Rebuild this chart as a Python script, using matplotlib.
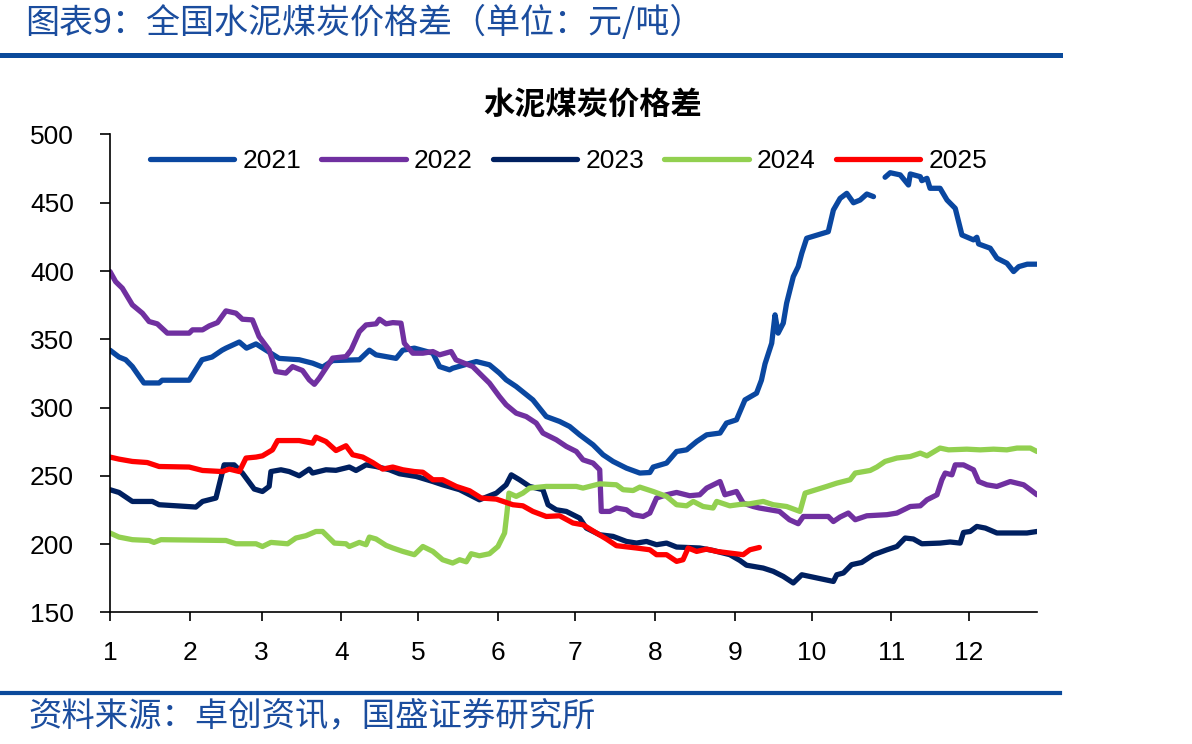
import numpy as np
import matplotlib
matplotlib.use("Agg")
import matplotlib.pyplot as plt
from matplotlib.lines import Line2D

# ---------------- data (x = day of year, y = 元/吨) ----------------
nan = np.nan
days_2021 = [0, 3.5, 6.1, 8.7, 11.3, 13.2, 19.1, 20.3, 30.8, 35.8, 39.7, 43.6, 45.1, 50.3, 53.1, 56.8,
             60.7, 65.8, 73.6, 78.8, 82.7, 86.6, 97.0, 100.9, 103.5, 111.3, 113.9, 118.4, 125.6,
             128.2, 132.1, 133.3, 142.5, 147.6, 151.5, 154.1, 158.0, 164.5, 169.7, 174.9, 178.8,
             182.7, 187.9, 191.8, 195.7, 200.9, 206.1, 210.0, 211.3, 216.5, 220.4, 224.3, 228.2,
             232.1, 237.3, 239.8, 243.7, 247.0, 251.5, 253.4, 254.8, 257.4, 258.7, 259.9, 261.9,
             263.2, 265.8, 267.7, 269.1, 271.0, 279.4, 281.4, 284.0, 286.6, 289.2, 291.8, 294.4,
             297.0, 299.0, 301.5, 303.5, 307.4, 310.6, 311.3, 315.2, 315.8, 317.8, 319.0, 322.9,
             325.6, 328.8, 331.4, 335.9, 337.2, 337.9, 342.4, 345.0, 348.9, 351.5, 353.5, 356.8, 360.6]
vals_2021 = [342, 337, 335, 330, 323, 318, 318, 320, 320, 335, 337, 342, 343.5, 348, 343.5, 346.6,
             342, 336, 335, 332.5, 329.6, 334.4, 335, 342, 338.6, 336, 342, 343.5, 339.8,
             330, 327.6, 328.8, 333.7, 331.3, 325.2, 320.3, 315.4, 305.6, 293.4, 289.8, 286.1,
             280, 272.7, 265.4, 260.5, 255.6, 252, 252.4, 256.4, 259.3, 267.8, 269, 275.1,
             280, 281.3, 288.6, 291, 305.6, 310.5, 320, 332, 347.1, 367.9, 354.5, 361.8,
             376.4, 395.9, 403.2, 413, 424, 428.8, 444.7, 453.2, 456.9, 450, 452, 456.4,
             454.5, nan, 468.7, 472, 470.4, 463, 471.1, 469.1, 466.2, 467.9, 460.6, 460.6,
             452, 445.9, 426.4, 422.8, 424.7, 419.8, 416.7, 409.4, 405.7, 399.6, 403.2, 405, 405]

days_2022 = [0, 2.2, 4.8, 8.7, 12.6, 15.2, 18.4, 22.3, 30.8, 32.1, 36.0, 38.6, 41.8, 45.1, 49.0,
             51.5, 55.4, 58.0, 61.9, 64.5, 68.4, 71.0, 74.9, 77.5, 79.5, 81.4, 86.6, 91.8, 93.8,
             97.0, 99.6, 103.5, 104.8, 107.4, 110.0, 113.2, 114.5, 117.8, 121.7, 125.6, 128.2,
             132.7, 134.6, 141.1, 145.0, 147.6, 151.5, 154.1, 158.0, 161.9, 165.8, 168.4, 173.6,
             177.5, 181.4, 184.0, 187.9, 190.5, 191.1, 194.4, 197.0, 200.9, 203.5, 207.4, 210.0,
             212.6, 216.5, 220.4, 225.5, 229.4, 232.1, 237.3, 239.2, 243.7, 246.3, 250.2, 252.6,
             260.4, 264.3, 267.7, 269.7, 279.4, 281.4, 284.0, 287.2, 289.9, 294.4, 302.2, 306.1,
             311.3, 315.2, 317.8, 321.7, 323.6, 324.9, 327.5, 328.8, 332.0, 335.9, 337.9, 341.1,
             345.0, 350.2, 355.4, 358.0, 360.6]
vals_2022 = [399.6, 392.2, 387.4, 375.2, 369.1, 363, 361.3, 354.5, 354.5, 356.9, 356.9, 359.8, 362.2,
             370.8, 369.1, 364.7, 364.2, 352, 342.2, 326.4, 325.2, 330, 327.1, 320.3, 317, 321.5,
             336.2, 337.3, 342.2, 355.6, 360.5, 361.3, 364.7, 361.3, 362.2, 361.8, 347.1, 339.8,
             339.8, 341, 338.6, 341, 334.9, 330, 322.7, 317.9, 308, 302, 295.9, 293.4, 288.6,
             281.3, 276.4, 271.5, 267.8, 261.7, 259.3, 254.4, 223.9, 223.9, 226.4, 225.1, 221.5,
             220.2, 222.7, 233.7, 236.1, 237.8, 235.4, 236.1, 241, 245.8, 236.1, 238.5, 230,
             227.5, 226.4, 223.9, 217.8, 214.9, 220.2, 220.2, 216.5, 219.8, 222.7, 217.8, 220.7,
             221.5, 222.7, 227.5, 228, 232.4, 236.1, 247.1, 252, 250.7, 258, 258, 254.4, 245.8,
             243.4, 242.2, 245.8, 243.4, 239.8, 236.1]

days_2023 = [0, 3.5, 8.7, 16.5, 19.1, 33.4, 36.0, 41.2, 44.4, 48.3, 51.5, 56.1, 59.3, 61.9, 62.6,
             66.5, 69.7, 73.6, 77.5, 78.8, 84.0, 87.9, 93.1, 95.7, 99.6, 103.5, 108.7, 112.6,
             119.1, 125.6, 129.4, 136.0, 143.7, 150.3, 154.1, 156.1, 159.3, 163.2, 168.4, 170.4,
             173.6, 177.5, 182.7, 185.3, 190.5, 195.7, 200.9, 204.8, 208.7, 212.6, 216.5, 220.4,
             229.4, 234.6, 241.1, 245.0, 247.6, 254.1, 258.0, 261.9, 265.8, 269.1, 281.4, 282.7,
             285.3, 288.5, 292.4, 297.0, 302.2, 306.1, 309.3, 312.5, 315.8, 322.9, 326.8, 330.7,
             332.0, 334.6, 337.2, 340.5, 345.0, 356.7, 360.6]
vals_2023 = [239.8, 237.8, 231.2, 231.2, 228.8, 227.1, 231.2, 233.7, 258, 258, 252, 240.3, 238.5,
             242.2, 253.1, 254.4, 253.1, 250, 254.9, 252, 254.4, 254, 256.4, 253.9, 258, 256.8,
             254.4, 251.5, 249.5, 245.8, 243.4, 239.8, 232.4, 237.3, 243.4, 250.7, 247.1, 242.2,
             239.8, 228.8, 225.1, 223.9, 219, 211.7, 206.8, 205.6, 201.9, 200.7, 201.9, 199.5,
             200.7, 197.8, 197.1, 195.3, 192.2, 188, 184.5, 182.4, 180, 176.3, 171.5, 177.5,
             172.6, 177.5, 178.8, 184.9, 186.5, 192.2, 195.8, 198.2, 204.4, 203.7, 200.2, 200.7,
             201.5, 200.7, 208.5, 209.2, 212.9, 211.7, 208.1, 208.1, 209.2]

days_2024 = [0, 3.5, 8.7, 15.2, 17.1, 19.8, 45.1, 49.0, 56.8, 59.3, 62.6, 69.1, 72.3, 76.2, 80.1,
             82.7, 87.3, 91.8, 93.1, 97.0, 99.6, 100.9, 103.5, 107.4, 110.0, 113.9, 118.4, 121.7,
             125.6, 129.4, 133.3, 136.0, 138.6, 140.5, 143.7, 147.6, 150.9, 153.5, 154.4, 155.2,
             158.0, 160.6, 163.2, 169.7, 181.4, 184.0, 190.5, 197.0, 199.6, 203.5, 206.1, 211.3,
             216.5, 220.4, 224.3, 226.9, 230.7, 234.6, 236.0, 241.1, 245.0, 248.9, 254.1, 258.0,
             263.2, 268.4, 270.4, 278.8, 282.7, 287.9, 289.9, 295.7, 298.3, 301.5, 306.1, 311.3,
             315.2, 317.8, 322.9, 326.2, 333.3, 338.5, 343.7, 348.9, 352.8, 358.0, 360.6]
vals_2024 = [208.1, 205.1, 203.2, 202.6, 201.2, 203.2, 202.6, 200.2, 200.2, 198.2, 201.2, 200.2,
             204.4, 206.1, 209.2, 209.2, 200.7, 200.2, 198.2, 201.2, 199.5, 205.1, 203.7, 199,
             197.1, 194.6, 192.2, 198.2, 194.6, 188.5, 186.1, 188.5, 187, 192.9, 191.4, 192.9,
             198.2, 208.1, 222.7, 237.3, 234.9, 237.3, 241, 242.2, 242.2, 241, 244.1, 243.4,
             239.8, 239.2, 241.7, 238.5, 234.9, 228.8, 228, 231.2, 227.5, 226.4, 231.2, 228,
             229, 229.5, 231.2, 228.8, 227.5, 223.9, 237.3, 242.2, 244.6, 247.1, 252, 253.9,
             256.4, 260.5, 263, 264.1, 266.6, 264.6, 270.3, 269, 269.5, 269, 269.5, 269, 270.3,
             270.3, 267.8]

days_2025 = [0, 3.5, 8.7, 14.5, 19.1, 30.8, 36.0, 43.7, 46.4, 50.3, 52.9, 56.8, 59.3, 63.2, 65.2,
             73.6, 78.8, 80.1, 84.0, 87.9, 91.8, 94.4, 98.3, 102.2, 106.1, 110.0, 113.9, 118.4,
             121.7, 125.6, 129.4, 134.7, 139.9, 144.4, 150.3, 156.7, 160.6, 164.5, 169.7, 174.9,
             180.1, 184.0, 189.2, 193.1, 197.0, 204.8, 210.0, 212.6, 216.5, 220.4, 222.9, 224.9,
             228.2, 232.1, 236.0, 241.1, 246.3, 248.9, 252.6]
vals_2025 = [263.7, 262.2, 260.5, 259.7, 256.8, 256.4, 253.9, 253.1, 254.9, 253.1, 263, 263.7,
             264.6, 269, 275.8, 275.8, 273.9, 278.3, 275.1, 268.5, 272, 265.4, 263.7, 259.7,
             254.9, 256.4, 254.4, 253.1, 252.6, 247.1, 247.1, 242.2, 239, 233.7, 232.9, 228.8,
             228, 223.9, 220.2, 220.7, 215.4, 214.1, 208.1, 203.7, 198.8, 197.1, 195.8, 192.2,
             192.2, 187.3, 188.5, 197.1, 194.6, 196.3, 194.6, 193.4, 192.2, 195.8, 197.5]

series_labels = ["2021", "2022", "2023", "2024", "2025"]
series_colors = ["#0A47A0", "#7030A0", "#002060", "#92D050", "#FF0000"]
month_start_days = [0, 31, 59, 90, 120, 151, 181, 212, 243, 273, 304, 334]
month_labels = [str(m) for m in range(1, 13)]
y_ticks = [150, 200, 250, 300, 350, 400, 450, 500]

header_text = "图表9：全国水泥煤炭价格差（单位：元/吨）"
chart_title = "水泥煤炭价格差"
source_text = "资料来源：卓创资讯，国盛证券研究所"

# ---------------- figure ----------------
CJK = ["Noto Sans CJK SC", "DejaVu Sans"]
NUM = ["Liberation Sans", "DejaVu Sans"]
brand_blue = "#0B4A9B"
text_blue = "#1B4D9E"

fig = plt.figure(figsize=(11.92, 7.44), dpi=100)
fig.patch.set_facecolor("white")

ax = fig.add_axes([110 / 1192, (744 - 612.3) / 744, 927 / 1192, 477.8 / 744])

all_days = [days_2021, days_2022, days_2023, days_2024, days_2025]
all_vals = [vals_2021, vals_2022, vals_2023, vals_2024, vals_2025]
for d, v, lab, col in zip(all_days, all_vals, series_labels, series_colors):
    ax.plot(d, v, color=col, lw=3.8, label=lab,
            solid_joinstyle="round", solid_capstyle="round")

ax.set_xlim(0, 360.6)
ax.set_ylim(150, 500)
ax.set_xticks(month_start_days)
ax.set_xticklabels(month_labels)
ax.set_yticks(y_ticks)
for s in ["top", "right"]:
    ax.spines[s].set_visible(False)
for s in ["left", "bottom"]:
    ax.spines[s].set_linewidth(1.2)
    ax.spines[s].set_color("black")
ax.tick_params(axis="y", direction="out", length=7, width=1.2, pad=19)
ax.tick_params(axis="x", direction="out", length=6.5, width=1.2, pad=14)
for lbl in ax.get_xticklabels() + ax.get_yticklabels():
    lbl.set_fontfamily(NUM)
    lbl.set_fontsize(19)

handles = [Line2D([], [], color=c, lw=3.8, solid_capstyle="round") for c in series_colors]
leg = ax.legend(handles, series_labels, loc="center", bbox_to_anchor=(0.4946, 0.944),
                ncol=5, frameon=False, handlelength=3.2, handletextpad=0.32,
                columnspacing=0.75, borderaxespad=0, borderpad=0,
                prop={"family": NUM, "size": 19})

# chart title
fig.text(593 / 1192, 1 - 105 / 744, chart_title, ha="center", va="center",
         fontsize=22.5, fontweight="bold", family=CJK, color="black")

# header
fig.text(25 / 1192, 1 - 23 / 744, header_text, ha="left", va="center",
         fontsize=24.5, family=CJK, color=text_blue)
fig.add_artist(Line2D([0, 1060 / 1192], [1 - 54.5 / 744] * 2, color=brand_blue, lw=3.6,
                      transform=fig.transFigure))

# footer
fig.add_artist(Line2D([0, 1060 / 1192], [1 - 693 / 744] * 2, color=brand_blue, lw=3.0,
                      transform=fig.transFigure))
fig.text(28 / 1192, 1 - 716 / 744, source_text, ha="left", va="center",
         fontsize=24, family=CJK, color=text_blue)

fig.savefig("out.png", dpi=100, facecolor="white")
